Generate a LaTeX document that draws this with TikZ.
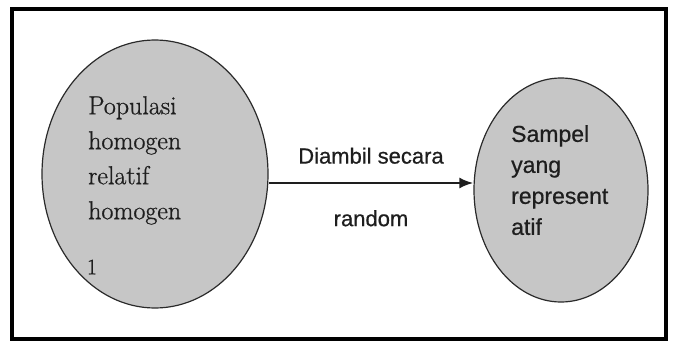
\documentclass[tikz,border=0pt]{standalone}
\usepackage{fontspec}
\newfontfamily\labelsans[FakeBold=0.6]{Liberation Sans}
\newfontfamily\groupserif[FakeBold=0.8]{Latin Modern Roman}
\usetikzlibrary{arrows.meta,shapes.geometric}
\definecolor{ink}{HTML}{1E1E1E}
\definecolor{grain}{HTML}{C6C6C6}
\definecolor{rim}{HTML}{2A2A2A}
\tikzset{
  blob/.style={ellipse, fill=grain, draw=rim, line width=1.2pt, inner sep=0pt},
  serif/.style={font=\groupserif\fontsize{26}{35}\selectfont, text=ink, align=left, inner sep=0pt, anchor=north west},
  sans/.style={font=\labelsans\fontsize{23}{31}\selectfont, text=ink, align=left, inner sep=0pt, anchor=north west},
  arr/.style={-{Latex[length=14pt,width=11pt]}, line width=2.4pt, draw=ink},
  lab/.style={font=\labelsans\fontsize{22}{26}\selectfont, text=ink, inner sep=0pt},
}

\begin{document}
\begin{tikzpicture}[x=1pt, y=1pt]
  \useasboundingbox (0,0) rectangle (673,341);
  \draw[line width=4pt] (11.5,2) rectangle (666,332);
  % the two groups
  \node[blob, minimum width=226pt, minimum height=268pt] (pop) at (155,167) {};
  \node[blob, minimum width=174pt, minimum height=224pt] (smp) at (561,151) {};
  \node[serif] (popt) at (88,245) {Populasi\\homogen\\relatif\\homogen};
  \node[serif, anchor=center, font=\groupserif\fontsize{22}{24}\selectfont] (tick) at (92,74) {1};
  \node[sans] (smpt) at (511,216) {Sampel\\yang\\represent\\atif};
  % the draw
  \coordinate (mid) at (370,158);
  \draw[arr] (pop.east |- mid) -- node[lab, above=18pt] (up) {Diambil secara} node[lab, below=26pt] (down) {random} (smp.west |- mid);
\end{tikzpicture}
\end{document}
